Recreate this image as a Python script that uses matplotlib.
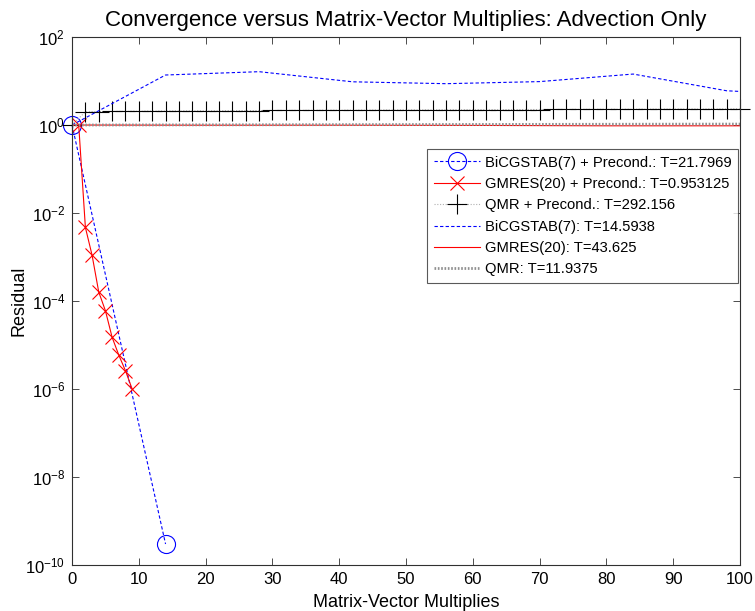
import matplotlib
matplotlib.use("Agg")
import matplotlib.pyplot as plt

plt.rcParams['font.family'] = ['Liberation Sans', 'DejaVu Sans']
plt.rcParams['mathtext.fontset'] = 'custom'
plt.rcParams['mathtext.rm'] = 'Liberation Sans'
plt.rcParams['mathtext.it'] = 'Liberation Sans'

# Preconditioned runs
bicg_p_x = [0, 14]
bicg_p_y = [1.0, 3.0e-10]

gmres_p_x = [1, 2, 3, 4, 5, 6, 7, 8, 9]
gmres_p_y = [1.0, 4.7e-3, 1.1e-3, 1.6e-4, 6.0e-5, 1.5e-5, 5.9e-6, 2.6e-6, 1.0e-6]

qmr_p_x = [0, 2, 4, 6, 8, 10, 12, 14, 16, 18, 20, 22, 24, 26, 28, 30, 32, 34,
           36, 38, 40, 42, 44, 46, 48, 50, 52, 54, 56, 58, 60, 62, 64, 66, 68,
           70, 72, 74, 76, 78, 80, 82, 84, 86, 88, 90, 92, 94, 96, 98, 100]
qmr_p_y = [1.0, 2.0, 2.02, 2.03, 2.05, 2.06, 2.07, 2.08, 2.09, 2.1, 2.1,
           2.11, 2.12, 2.13, 2.13, 2.14, 2.15, 2.15, 2.16, 2.17, 2.17, 2.18,
           2.18, 2.19, 2.2, 2.2, 2.21, 2.21, 2.22, 2.22, 2.23, 2.23, 2.24,
           2.24, 2.25, 2.25, 2.26, 2.26, 2.27, 2.27, 2.28, 2.28, 2.29, 2.29,
           2.3, 2.3, 2.31, 2.31, 2.32, 2.32, 2.33]

# Unpreconditioned runs
bicg_x = [0, 14, 28, 42, 56, 70, 84, 98, 100]
bicg_y = [1.0, 13.7, 16.3, 9.6, 8.7, 9.7, 14.4, 6.0, 5.8]

gmres_x = [0, 20, 40, 60, 80, 100]
gmres_y = [1.0, 0.99, 0.99, 0.98, 0.96, 0.96]

qmr_x = [0, 20, 40, 60, 80, 100]
qmr_y = [1.0, 1.01, 1.02, 1.03, 1.04, 1.05]

labels = [
    'BiCGSTAB(7) + Precond.: T=21.7969',
    'GMRES(20) + Precond.: T=0.953125',
    'QMR + Precond.: T=292.156',
    'BiCGSTAB(7): T=14.5938',
    'GMRES(20): T=43.625',
    'QMR: T=11.9375',
]

fig = plt.figure(figsize=(7.55, 6.11), dpi=100)
ax = fig.add_axes([0.0954, 0.0753, 0.8848, 0.8641])

ax.semilogy(bicg_p_x, bicg_p_y, color='#0000ff', ls=(0, (3, 2)), lw=0.8,
            marker='o', ms=13, mfc='none', mec='#0000ff', mew=0.8,
            clip_on=False, label=labels[0])
ax.semilogy(gmres_p_x, gmres_p_y, color='#ff0000', ls='-', lw=0.8,
            marker='x', ms=10, mec='#ff0000', mew=0.8, label=labels[1])
ax.semilogy(qmr_p_x, qmr_p_y, color='#b0b0b0', ls=(0, (1, 1.5)), lw=0.8,
            marker='+', ms=14, mec='black', mew=0.8, clip_on=False, label=labels[2])
ax.semilogy(bicg_x, bicg_y, color='#0000ff', ls=(0, (3, 2)), lw=0.8, label=labels[3])
ax.semilogy(gmres_x, gmres_y, color='#ff0000', ls='-', lw=0.8, label=labels[4])
ax.semilogy(qmr_x, qmr_y, color='#909090', ls=(0, (0.6, 0.6)), lw=2.0, label=labels[5])

ax.set_xlim(0, 100)
ax.set_ylim(1e-10, 1e2)
ax.set_xticks(range(0, 101, 10))
ax.set_yticks([1e-10, 1e-8, 1e-6, 1e-4, 1e-2, 1e0, 1e2])
ax.minorticks_off()
ax.tick_params(direction='in', top=True, right=True, length=5, width=0.6,
               labelsize=12, colors='#303030', labelcolor='black', pad=5)
for s in ax.spines.values():
    s.set_linewidth(0.8)
    s.set_color('#303030')

ax.set_title('Convergence versus Matrix-Vector Multiplies: Advection Only',
             fontsize=16, pad=8)
ax.set_xlabel('Matrix-Vector Multiplies', fontsize=13, labelpad=5)
ax.set_ylabel('Residual', fontsize=13)
ax.yaxis.set_label_coords(-0.066, 0.5)

leg = ax.legend(loc='upper right', bbox_to_anchor=(0.997, 0.788), fontsize=10.6,
                frameon=True, fancybox=False, edgecolor='#303030',
                handlelength=3.1, handletextpad=0.35, labelspacing=0.5,
                borderpad=0.45, borderaxespad=0.0)
leg.get_frame().set_linewidth(0.8)

fig.savefig('out.png', dpi=100)
